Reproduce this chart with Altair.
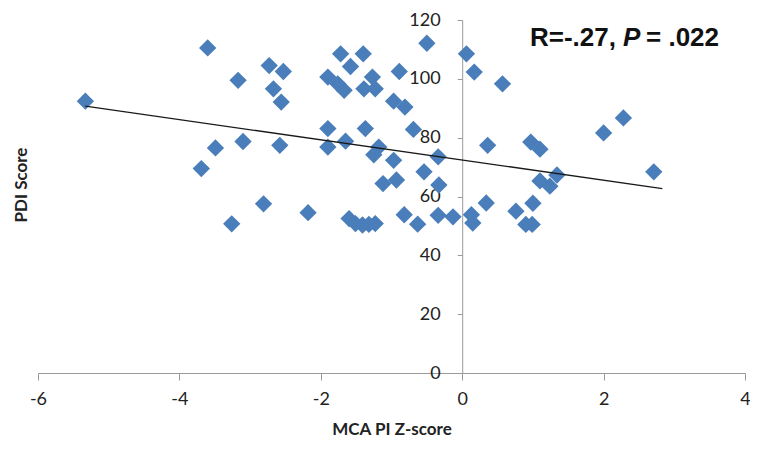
import altair as alt
import pandas as pd

# ---- data ----
mca_z = [-5.33, -3.60, -3.17, -3.49, -3.69, -3.26, -3.10, -2.73, -2.53, -2.67,
         -2.56, -2.58, -2.81, -2.18, -1.72, -1.40, -1.58, -1.90, -1.76, -1.67,
         -1.27, -1.39, -1.23, -0.97, -1.90, -1.90, -1.65, -1.37, -1.18, -1.25,
         -0.97, -1.12, -0.93, -1.60, -1.51, -1.41, -1.32, -1.23, -0.50, -0.89,
         -0.81, -0.69, -0.34, -0.54, -0.33, -0.82, -0.63, -0.34, -0.13, 0.13,
         0.15, 0.06, 0.17, 0.57, 0.36, 0.34, 0.76, 0.90, 0.99, 1.00,
         0.97, 1.10, 1.10, 1.24, 1.34, 2.00, 2.28, 2.71]
pdi = [92.4, 110.5, 99.5, 76.5, 69.5, 50.7, 78.7, 104.5, 102.5, 96.6,
       92.1, 77.4, 57.5, 54.5, 108.5, 108.5, 104.2, 100.6, 98.3, 96.1,
       100.6, 96.6, 96.6, 92.4, 83.1, 76.8, 78.8, 83.1, 76.8, 74.2,
       72.3, 64.4, 65.6, 52.5, 50.8, 50.3, 50.5, 50.8, 112.1, 102.5,
       90.4, 82.8, 73.5, 68.4, 63.9, 53.8, 50.6, 53.6, 53.1, 53.8,
       51.0, 108.5, 102.3, 98.3, 77.4, 57.8, 55.0, 50.5, 50.5, 57.7,
       78.5, 76.1, 65.3, 63.5, 67.3, 81.6, 86.7, 68.4]

trend_x = [-5.33, 2.83]
trend_y = [90.7, 62.7]

x_ticks = [-6, -4, -2, 0, 2, 4]
y_ticks = [0, 20, 40, 60, 80, 100, 120]

x_title = "MCA PI Z-score"
y_title = "PDI Score"
annot_parts = ["R=-.27,", "P", "= .022"]

points_df = pd.DataFrame({"z": mca_z, "pdi": pdi})
trend_df = pd.DataFrame({"z": trend_x, "pdi": trend_y})

W, H = 707, 353
PAD_L, PAD_T = 30, 12
label_font = "Lato"

x_enc = alt.X(
    "z:Q",
    scale=alt.Scale(domain=[-6, 4], nice=False, zero=False),
    axis=alt.Axis(
        values=x_ticks, grid=False, title=x_title, labelFontSize=18,
        labelExpr="'' + datum.value",
        labelFont=label_font, labelColor="#222222", labelFlush=False,
        labelPadding=10, tickSize=7, tickColor="#9a9a9a", domainColor="#9a9a9a",
        titleFont=label_font, titleFontSize=17, titleFontWeight="bold",
        titleColor="#222222", titlePadding=13,
    ),
)
y_enc = alt.Y(
    "pdi:Q",
    scale=alt.Scale(domain=[0, 120], nice=False),
    axis=alt.Axis(
        values=y_ticks, grid=False, title="", offset=-0.6 * W, labelFontSize=18,
        labelExpr="'' + datum.value",
        labelFont=label_font, labelColor="#222222", labelFlush=False,
        labelPadding=17, tickSize=5, tickColor="#9a9a9a", domainColor="#9a9a9a",
    ),
)

points = alt.Chart(points_df).mark_point(
    shape="diamond", filled=True, size=300, color="#4A7EBB", opacity=1
).encode(x=x_enc, y=y_enc)

trend = alt.Chart(trend_df).mark_line(color="#1a1a1a", strokeWidth=1.3).encode(
    x="z:Q", y="pdi:Q"
)

ytitle = alt.Chart(pd.DataFrame({"t": [y_title]})).mark_text(
    angle=270, font=label_font, fontSize=17, fontWeight="bold", color="#222222",
    align="center", baseline="middle",
).encode(text="t:N", x=alt.value(-16), y=alt.value(165))

def annot(txt, xpos, italic=False):
    kw = dict(font="Liberation Sans", fontSize=26, fontWeight="bold",
              color="#111111", align="left", baseline="alphabetic")
    if italic:
        kw["fontStyle"] = "italic"
    return alt.Chart(pd.DataFrame({"t": [txt]})).mark_text(**kw).encode(
        text="t:N", x=alt.value(xpos), y=alt.value(26)
    )

chart = alt.layer(
    points, trend, ytitle,
    annot(annot_parts[0], 492),
    annot(annot_parts[1], 585, italic=True),
    annot(annot_parts[2], 608),
).properties(
    width=W, height=H,
    autosize=alt.AutoSizeParams(type="none"),
    padding={"left": PAD_L, "top": PAD_T, "right": 5, "bottom": 65},
    background="white",
).configure_view(strokeWidth=0)

chart.save("out.html", embed_options={"renderer": "svg", "actions": False})
